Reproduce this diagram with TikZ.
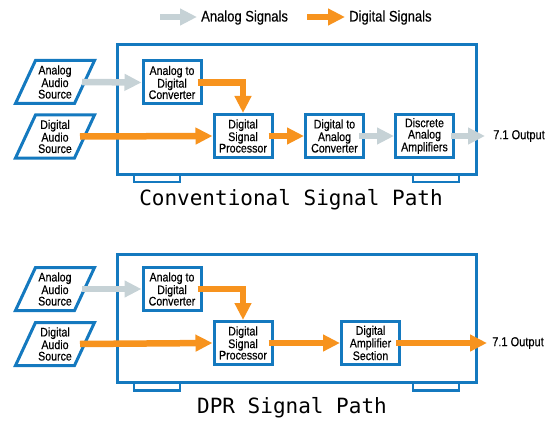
\documentclass[tikz,border=0pt]{standalone}
\usepackage{fontspec}
\setmainfont{Liberation Sans}[FakeStretch=0.85, FakeBold=0.4]
\newfontfamily\titlefont{DejaVu Sans Mono}
\usetikzlibrary{arrows.meta,calc}
\definecolor{dblue}{HTML}{1479BF}
\definecolor{dorange}{HTML}{F7931E}
\definecolor{dgrey}{HTML}{C6D2D6}
\newcommand\srcshape[1]{%
  \draw[srcline] ($(#1.center)+(-19.5,-21.5)$) -- ++(59,0) -- ++(-20,43) -- ++(-59,0) -- cycle;}
\begin{document}
\begin{tikzpicture}[x=1pt,y=-1pt,
  procbox/.style={draw=dblue, line width=3pt, fill=white, minimum width=58pt,
    minimum height=43pt, inner sep=0pt, align=center,
    font=\fontsize{12.5}{11.4}\selectfont},
  srctext/.style={inner sep=0pt, align=center, font=\fontsize{12.5}{11.4}\selectfont},
  srcline/.style={draw=dblue, line width=3pt, line join=miter},
  cabinet/.style={draw=dblue, line width=3pt},
  foot/.style={draw=dblue, line width=2.5pt, fill=white},
  sig/.style={line width=6.5pt, -{Triangle[length=17pt,width=16pt]}},
  ana/.style={sig, draw=dgrey},
  dig/.style={sig, draw=dorange},
  outtext/.style={inner sep=0pt, anchor=west, font=\fontsize{13}{13}\selectfont},
  legtext/.style={inner sep=0pt, anchor=base west, font=\fontsize{15.3}{15.3}\selectfont},
  titletext/.style={inner sep=0pt, anchor=base, font=\titlefont\fontsize{21}{21}\selectfont}
]
\useasboundingbox (0,0) rectangle (551,425);

% legend
\coordinate (la1) at (160,17);
\node[legtext] (leg1) at (201,21.5) {Analog Signals};
\coordinate (ld1) at (307,17);
\node[legtext] (leg2) at (349,21.5) {Digital Signals};
\draw[ana] (la1) -- ($(leg1.west |- la1)+(-4,0)$);
\draw[dig] (ld1) -- ($(leg2.west |- ld1)+(-4,0)$);

% ===== Conventional =====
\draw[foot] (134,174) rectangle (180,182);
\draw[foot] (413,174) rectangle (459,182);
\draw[cabinet] (117,44.5) rectangle (476,174);

\node[srctext] (as1) at (55,82) {Analog\\Audio\\Source};
\srcshape{as1}
\node[srctext] (ds1) at (55,136.5) {Digital\\Audio\\Source};
\srcshape{ds1}

\node[procbox] (adc1) at (172,82.5) {Analog to\\Digital\\Converter};
\node[procbox] (dsp1) at (243,136) {Digital\\Signal\\Processor};
\node[procbox] (dac1) at (334.5,136) {Digital to\\Analog\\Converter};
\node[procbox] (daa1) at (424.5,136) {Discrete\\Analog\\Amplifiers};
\node[outtext] (out1) at (493,136) {7.1 Output};

\draw[ana] ([xshift=27pt]as1.center) -- (adc1.west);
\draw[dig] ([xshift=-5pt]adc1.east) -| (dsp1.north);
\draw[dig] ([xshift=25pt]ds1.center) -- (dsp1.west);
\draw[dig] ([xshift=-5pt]dsp1.east) -- (dac1.west);
\draw[ana] ([xshift=-6pt]dac1.east) -- (daa1.west);
\draw[ana] ([xshift=-4pt]daa1.east) -- ([xshift=-8pt]out1.west);

\node[titletext] (t1) at (291,205) {Conventional Signal Path};

% ===== DPR =====
\draw[foot] (134,382.5) rectangle (180,390.5);
\draw[foot] (413,382.5) rectangle (459,390.5);
\draw[cabinet] (117,254.5) rectangle (476,382.5);

\node[srctext] (as2) at (55,289) {Analog\\Audio\\Source};
\srcshape{as2}
\node[srctext] (ds2) at (55,344) {Digital\\Audio\\Source};
\srcshape{ds2}

\node[procbox] (adc2) at (172,289) {Analog to\\Digital\\Converter};
\node[procbox] (dsp2) at (243,343) {Digital\\Signal\\Processor};
\node[procbox] (das2) at (370.5,343) {Digital\\Amplifier\\Section};
\node[outtext] (out2) at (492,343) {7.1 Output};

\draw[ana] ([xshift=27pt]as2.center) -- (adc2.west);
\draw[dig] ([xshift=-5pt]adc2.east) -| (dsp2.north);
\draw[dig] ([xshift=25pt]ds2.center) -- (dsp2.west);
\draw[dig] ([xshift=-5pt]dsp2.east) -- (das2.west);
\draw[dig] ([xshift=-5pt]das2.east) -- ([xshift=-5pt]out2.west);

\node[titletext] (t2) at (292,413) {DPR Signal Path};
\end{tikzpicture}
\end{document}
